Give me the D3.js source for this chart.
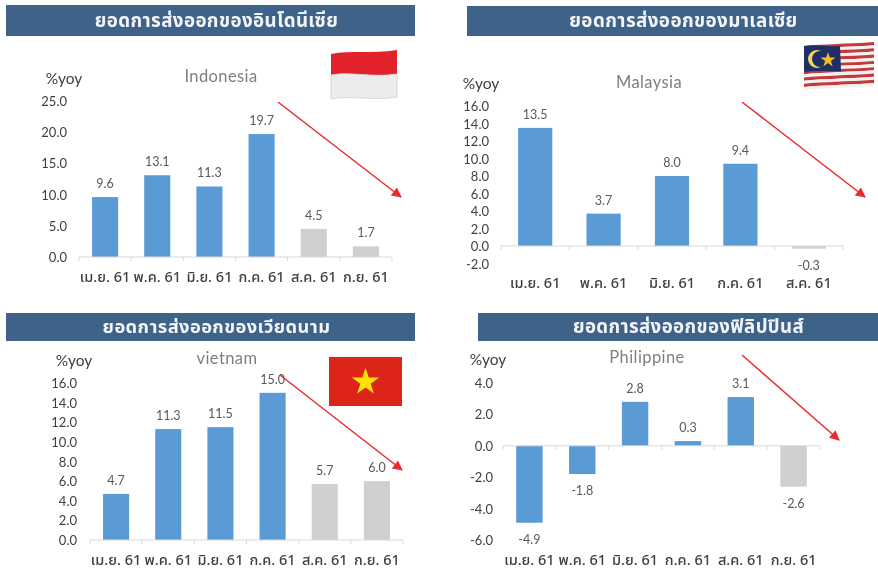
<!DOCTYPE html>
<html><head><meta charset="utf-8">
<script src="https://d3js.org/d3.v7.min.js"></script>
<style>
html,body{margin:0;padding:0;background:#fff;overflow:hidden}
svg{display:block;filter:blur(0.45px)}
text{font-family:Lato,"Open Sans","Noto Sans",sans-serif}
.th{font-family:"Noto Sans Thai","Noto Sans","DejaVu Sans",Lato,sans-serif}
</style></head><body>
<svg id="c" width="878" height="572"></svg>
<script>
const monthsSix = ["เม.ย. 61","พ.ค. 61","มิ.ย. 61","ก.ค. 61","ส.ค. 61","ก.ย. 61"];
const monthsFive = ["เม.ย. 61","พ.ค. 61","มิ.ย. 61","ก.ค. 61","ส.ค. 61"];
const indonesiaValues = [9.6,13.1,11.3,19.7,4.5,1.7];
const malaysiaValues = [13.5,3.7,8.0,9.4,-0.3];
const vietnamValues = [4.7,11.3,11.5,15.0,5.7,6.0];
const philippineValues = [-4.9,-1.8,2.8,0.3,3.1,-2.6];
const indonesiaTicks = [0,5,10,15,20,25];
const malaysiaTicks = [-2,0,2,4,6,8,10,12,14,16];
const vietnamTicks = [0,2,4,6,8,10,12,14,16];
const philippineTicks = [-6,-4,-2,0,2,4];
const indonesiaGrey = [false,false,false,false,true,true];
const malaysiaGrey = [false,false,false,false,true];
const vietnamGrey = [false,false,false,false,true,true];
const philippineGrey = [false,false,false,false,false,true];

const BLUE="#5b9bd5", GREY="#d0cece", HEAD="#3f6288", RED="#ea2a2e";
const fmt=v=>d3.format(".1f")(v).replace("−","-");
const svg=d3.select("#c");
const defs=svg.append("defs");
defs.append("marker").attr("id","ah").attr("viewBox","0 0 10 10").attr("refX",9).attr("refY",5)
 .attr("markerWidth",12).attr("markerHeight",10).attr("markerUnits","userSpaceOnUse").attr("orient","auto")
 .append("path").attr("d","M0,0L10,5L0,10Z").attr("fill",RED);

const panels=[
 {head:"ยอดการส่งออกของอินโดนีเซีย",hx:[6,415],hy:[5,36],headX:216.5,headSize:18.7,name:"Indonesia",nameX:221,nameY:77,unitX:64,unitY:79,
  cats:monthsSix,vals:indonesiaValues,grey:indonesiaGrey,ticks:indonesiaTicks,x:[79,392],y0:257,yTop:101,dom:[0,25],tickX:67,barPad:0.5,catY:277,arrow:[278,102,401,197]},
 {head:"ยอดการส่งออกของมาเลเซีย",hx:[467,878],hy:[6,36],headX:683.5,headSize:18.8,name:"Malaysia",nameX:649,nameY:83,unitX:481,unitY:84,
  cats:monthsFive,vals:malaysiaValues,grey:malaysiaGrey,ticks:malaysiaTicks,x:[501,843],yMin:263.5,yTop:106,dom:[-2,16],tickX:489,barPad:0.5,catY:283,arrow:[742,102,865,197]},
 {head:"ยอดการส่งออกของเวียดนาม",hx:[6,415],hy:[313,341],headX:216.5,headSize:18.3,name:"vietnam",nameX:227,nameY:359,unitX:74,unitY:361,
  cats:monthsSix,vals:vietnamValues,grey:vietnamGrey,ticks:vietnamTicks,x:[90,403],y0:540,yTop:383,dom:[0,16],tickX:77,barPad:0.5,catY:560,arrow:[280,375,402,470]},
 {head:"ยอดการส่งออกของฟิลิปปินส์",hx:[478,878],hy:[313,341],headX:688.5,headSize:18.6,name:"Philippine",nameX:647,nameY:358,unitX:488,unitY:360,
  cats:monthsSix,vals:philippineValues,grey:philippineGrey,ticks:philippineTicks,x:[503,820],yMin:540,yTop:383,dom:[-6,4],tickX:493,barPad:0.5,catY:560,arrow:[742,355,839,440]}
];

panels.forEach(p=>{
 const g=svg.append("g");
 g.append("rect").attr("x",p.hx[0]).attr("y",p.hy[0]).attr("width",p.hx[1]-p.hx[0]).attr("height",p.hy[1]-p.hy[0]).attr("fill",HEAD);
 g.append("text").attr("class","th").attr("x",p.headX).attr("y",(p.hy[0]+p.hy[1])/2+6)
  .attr("text-anchor","middle").attr("fill","#f2f5f8").attr("font-size",p.headSize).attr("font-weight",700).attr("letter-spacing",0.4).text(p.head);
 g.append("text").attr("x",p.nameX).attr("y",p.nameY+5).attr("text-anchor","middle").attr("fill","#7f7f7f").attr("font-size",16.5).attr("letter-spacing",0.4).text(p.name);
 g.append("text").attr("x",p.unitX).attr("y",p.unitY+5).attr("text-anchor","middle").attr("fill","#404040").attr("font-size",15.5).text("%yoy");

 const y=d3.scaleLinear().domain(p.dom).range([p.yMin!==undefined?p.yMin:p.y0,p.yTop]);
 const x=d3.scaleBand().domain(p.cats).range(p.x).paddingInner(p.barPad).paddingOuter(p.barPad/2);
 const zero=y(0);
 const yAxis=d3.axisLeft(y).tickValues(p.ticks).tickFormat(fmt).tickSize(0).tickPadding(0);
 const ya=g.append("g").attr("transform",`translate(${p.tickX},0)`).call(yAxis);
 ya.select(".domain").remove();
 ya.selectAll("text").attr("fill","#404040").attr("font-size",13).attr("text-anchor","end").attr("dy","0.35em").attr("x",0);

 g.selectAll(".bar").data(p.vals).join("rect").attr("class","bar")
  .attr("x",(d,i)=>x(p.cats[i])).attr("width",x.bandwidth())
  .attr("y",d=>d>=0?y(d):zero).attr("height",d=>Math.abs(y(d)-zero))
  .attr("fill",(d,i)=>p.grey[i]?GREY:BLUE);

 const xAxis=d3.axisBottom(x).tickSize(0).tickPadding(0);
 g.append("line").attr("x1",p.x[0]).attr("x2",p.x[1]).attr("y1",zero).attr("y2",zero).attr("stroke","#d9d9d9").attr("stroke-width",1);
 d3.range(p.cats.length+1).forEach(i=>{
  const tx=p.x[0]+i*(p.x[1]-p.x[0])/p.cats.length;
  g.append("line").attr("x1",tx).attr("x2",tx).attr("y1",zero).attr("y2",zero+4).attr("stroke","#d9d9d9");
 });
 const xa=g.append("g").attr("transform",`translate(0,${p.catY})`).call(xAxis);
 xa.select(".domain").remove();
 xa.selectAll("text").attr("class","th").attr("y",0).attr("dy","0.35em").attr("fill","#404040").attr("font-size",14.5).attr("font-weight",500);

 g.selectAll(".lab").data(p.vals).join("text").attr("class","lab")
  .attr("x",(d,i)=>x(p.cats[i])+x.bandwidth()/2)
  .attr("y",d=>d>=0?y(d)-9:y(d)+21)
  .attr("text-anchor","middle").attr("fill","#595959").attr("font-size",12.5)
  .text(fmt);

 const a=p.arrow;
 g.append("line").attr("x1",a[0]).attr("y1",a[1]).attr("x2",a[2]).attr("y2",a[3]).attr("stroke",RED).attr("stroke-width",1.5).attr("marker-end","url(#ah)");
});

// Flags
const f=svg.append("g");
const wave=(x0,x1,yL,yR,a)=>{const w=x1-x0;return `C${x0+w*0.3},${yL-a} ${x0+w*0.6},${yR+a} ${x1},${yR}`};
const waveBack=(x0,x1,yL,yR,a)=>{const w=x1-x0;return `C${x0+w*0.6},${yR+a} ${x0+w*0.3},${yL-a} ${x0},${yL}`};
// Indonesia
f.append("path").attr("d",`M331,54${wave(331,397,54,50,4)}L397,74${waveBack(331,397,75,74,4)}Z`).attr("fill","#e2222b");
f.append("path").attr("d",`M331,75${wave(331,397,75,74,4)}L397,97${waveBack(331,397,99,97,4)}Z`).attr("fill","#ececec").attr("stroke","#cfcfcf").attr("stroke-width",0.8);
// Malaysia
const mx0=804,mx1=874;
d3.range(14).forEach(i=>{
 const t=46+i*3.15, h=3.15;
 f.append("path").attr("d",`M${mx0},${t}${wave(mx0,mx1,t,t-4,2)}L${mx1},${t-4+h}${waveBack(mx0,mx1,t+h,t-4+h,2)}Z`).attr("fill",i%2?"#f4f0ee":"#c03a3e");
});
f.append("path").attr("d",`M${mx0},46C816,44 826,47 840,46L841,71C828,72 816,70 ${mx0},72Z`).attr("fill","#1d2f66");
f.append("circle").attr("cx",817).attr("cy",59).attr("r",9).attr("fill","#f2d65e");
f.append("circle").attr("cx",820).attr("cy",59).attr("r",8).attr("fill","#1d2f66");
f.append("path").attr("d",d3.symbol(d3.symbolStar,70)()).attr("transform","translate(828,60)").attr("fill","#f2c01e");
// Vietnam
f.append("rect").attr("x",329).attr("y",357).attr("width",73).attr("height",49).attr("fill","#dc2418");
f.append("path").attr("d",d3.symbol(d3.symbolStar,230)()).attr("transform","translate(365.5,382)").attr("fill","#fde205");
</script></body></html>
